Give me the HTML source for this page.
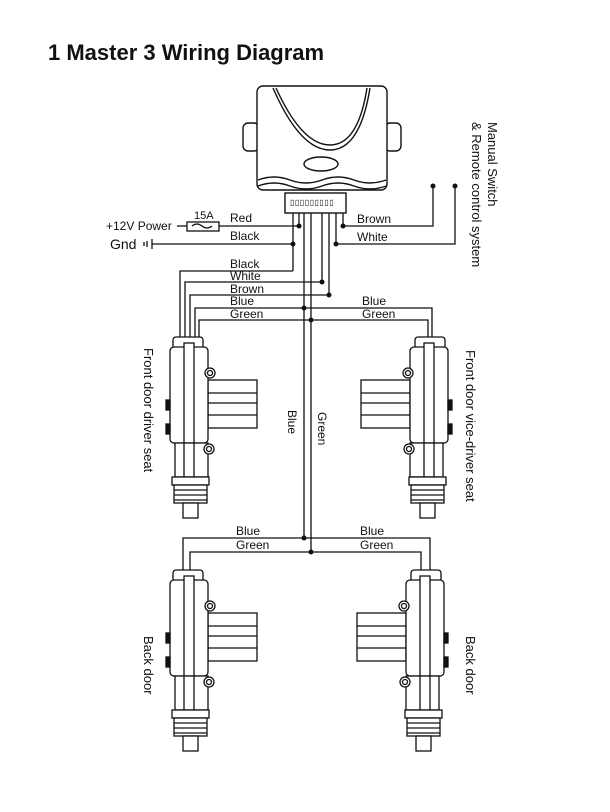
<!DOCTYPE html>
<html><head><meta charset="utf-8"><style>
html,body{margin:0;padding:0;background:#fff}
svg{display:block}
text{font-family:"Liberation Sans",sans-serif;fill:#111}
</style></head><body>
<svg width="610" height="812" viewBox="0 0 610 812" xmlns="http://www.w3.org/2000/svg">
<defs>
<g id="act" fill="#fff" stroke="#111" stroke-width="1.3">
  <rect x="208" y="380" width="49" height="48"/>
  <line x1="208" y1="393" x2="257" y2="393"/>
  <line x1="208" y1="403" x2="257" y2="403"/>
  <line x1="208" y1="415" x2="257" y2="415"/>
  <rect x="173" y="337" width="30" height="12" rx="3"/>
  <rect x="170" y="347" width="38" height="96" rx="4"/>
  <rect x="184" y="343" width="10" height="100"/>
  <rect x="166" y="400" width="4" height="10" fill="#111"/>
  <rect x="166" y="424" width="4" height="10" fill="#111"/>
  <rect x="175" y="443" width="33" height="34"/>
  <line x1="184" y1="443" x2="184" y2="477"/><line x1="194" y1="443" x2="194" y2="477"/>
  <rect x="172" y="477" width="37" height="8"/>
  <rect x="174" y="485" width="33" height="18"/>
  <line x1="174" y1="490" x2="207" y2="490"/><line x1="174" y1="495" x2="207" y2="495"/><line x1="174" y1="500" x2="207" y2="500"/>
  <rect x="183" y="503" width="15" height="15"/>
  <circle cx="210" cy="373" r="5"/><circle cx="210" cy="373" r="2.5"/>
  <circle cx="209" cy="449" r="5"/><circle cx="209" cy="449" r="2.5"/>
</g>
</defs>
<text x="48" y="60" font-size="22" font-weight="bold">1 Master 3 Wiring Diagram</text>

<!-- control unit -->
<g fill="#fff" stroke="#111" stroke-width="1.4">
  <rect x="243" y="123" width="16" height="28" rx="5"/>
  <rect x="385" y="123" width="16" height="28" rx="5"/>
  <rect x="257" y="86" width="130" height="104" rx="6"/>
  <path d="M273 88 Q300 150 330 150 Q360 150 370 88" fill="none"/>
  <path d="M276 88 Q302 145 330 145 Q358 145 367 88" fill="none"/>
  <ellipse cx="321" cy="164" rx="17" ry="7"/>
  <path d="M258 180 q16 -6 32 0 t32 0 t32 0 t32 0" fill="none"/>
  <path d="M258 186 q16 -6 32 0 t32 0 t32 0 t32 0" fill="none"/>
  <rect x="285" y="193" width="61" height="20"/>
</g>
<text x="290" y="205" font-size="8" letter-spacing="0.5">▯▯▯▯▯▯▯▯▯</text>

<g fill="none" stroke="#111" stroke-width="1.3">
  <!-- pins -->
  <line x1="293" y1="213" x2="293" y2="271"/>
  <line x1="299" y1="213" x2="299" y2="226"/>
  <line x1="304" y1="213" x2="304" y2="538"/>
  <line x1="311" y1="213" x2="311" y2="552"/>
  <line x1="322" y1="213" x2="322" y2="282"/>
  <line x1="329" y1="213" x2="329" y2="295"/>
  <line x1="336" y1="213" x2="336" y2="244"/>
  <line x1="343" y1="213" x2="343" y2="226"/>
  <!-- power -->
  <line x1="177" y1="226" x2="187" y2="226"/>
  <rect x="187" y="222" width="32" height="9"/>
  <path d="M192 226 q5 -4 10 0 t10 0"/>
  <line x1="219" y1="226" x2="299" y2="226"/>
  <line x1="152" y1="244" x2="293" y2="244"/>
  <line x1="152" y1="239" x2="152" y2="249"/>
  <line x1="147" y1="241" x2="147" y2="247"/>
  <line x1="144" y1="242" x2="144" y2="246"/>
  <!-- switch -->
  <polyline points="343,226 433,226 433,186"/>
  <polyline points="336,244 455,244 455,186"/>
  <!-- actuator wires -->
  <polyline points="293,271 180,271 180,345"/>
  <polyline points="322,282 185,282 185,345"/>
  <polyline points="329,295 190,295 190,345"/>
  <polyline points="195,345 195,308 432,308 432,345"/>
  <polyline points="199,345 199,320 428,320 428,345"/>
  <polyline points="183,578 183,538 430,538 430,578"/>
  <polyline points="190,578 190,552 421,552 421,578"/>
</g>
<g fill="#111">
  <circle cx="299" cy="226" r="2.5"/><circle cx="293" cy="244" r="2.5"/>
  <circle cx="343" cy="226" r="2.5"/><circle cx="336" cy="244" r="2.5"/>
  <circle cx="433" cy="186" r="2.5"/><circle cx="455" cy="186" r="2.5"/>
  <circle cx="322" cy="282" r="2.5"/><circle cx="329" cy="295" r="2.5"/>
  <circle cx="304" cy="308" r="2.5"/><circle cx="311" cy="320" r="2.5"/>
  <circle cx="304" cy="538" r="2.5"/><circle cx="311" cy="552" r="2.5"/>
</g>

<use href="#act"/>
<use href="#act" transform="translate(618,0) scale(-1,1)"/>
<use href="#act" transform="translate(0,233)"/>
<use href="#act" transform="translate(614,233) scale(-1,1)"/>

<g font-size="12">
  <text x="106" y="230">+12V Power</text>
  <text x="194" y="219" font-size="11">15A</text>
  <text x="230" y="222">Red</text>
  <text x="230" y="240">Black</text>
  <text x="110" y="249" font-size="14">Gnd</text>
  <text x="357" y="223">Brown</text>
  <text x="357" y="241">White</text>
  <text x="230" y="268">Black</text>
  <text x="230" y="280">White</text>
  <text x="230" y="293">Brown</text>
  <text x="230" y="305">Blue</text>
  <text x="230" y="318">Green</text>
  <text x="362" y="305">Blue</text>
  <text x="362" y="318">Green</text>
  <text x="236" y="535">Blue</text>
  <text x="236" y="549">Green</text>
  <text x="360" y="535">Blue</text>
  <text x="360" y="549">Green</text>
</g>
<g font-size="13">
  <text transform="translate(488,122) rotate(90)">Manual Switch</text>
  <text transform="translate(472,122) rotate(90)">&amp; Remote control system</text>
  <text transform="translate(144,348) rotate(90)">Front door driver seat</text>
  <text transform="translate(466,350) rotate(90)">Front door vice-driver seat</text>
  <text transform="translate(144,636) rotate(90)">Back door</text>
  <text transform="translate(466,636) rotate(90)">Back door</text>
  <text transform="translate(288,410) rotate(90)" font-size="12">Blue</text>
  <text transform="translate(318,412) rotate(90)" font-size="12">Green</text>
</g>
</svg>
</body></html>
